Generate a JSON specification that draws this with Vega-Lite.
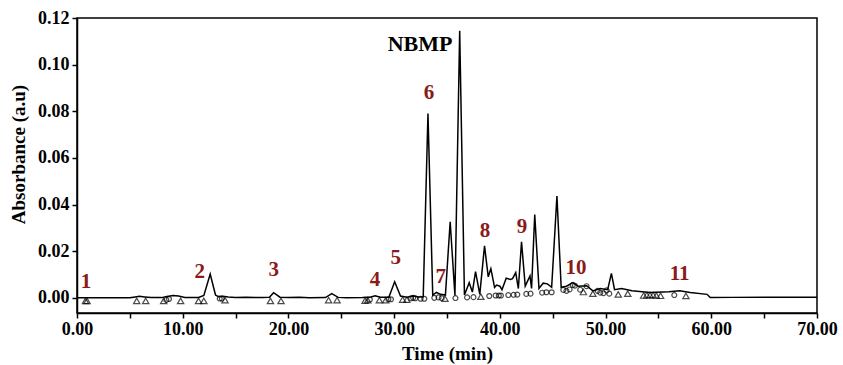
{
  "$schema": "https://vega.github.io/schema/vega-lite/v6.json",
  "width": 740,
  "height": 295,
  "autosize": {"type": "none"},
  "padding": {"left": 77, "top": 18, "right": 26, "bottom": 52},
  "background": "white",
  "config": {
    "view": {"stroke": "black", "strokeWidth": 1.5},
    "font": "Liberation Serif",
    "axis": {
      "grid": false,
      "domainColor": "black",
      "domainWidth": 1.5,
      "tickColor": "black",
      "tickWidth": 1.5,
      "tickSize": 5,
      "labelColor": "black",
      "labelFont": "Liberation Serif",
      "labelFontWeight": "bold",
      "labelFontSize": 18,
      "titleFont": "Liberation Serif",
      "titleFontWeight": "bold",
      "titleFontSize": 19,
      "titleColor": "black",
      "labelOverlap": false,
      "labelFlush": false
    },
    "axisX": {
      "values": [0,2,4,6,8,10,12,14,16,18,20,22,24,26,28,30,32,34,36,38,40,42,44,46,48,50,52,54,56,58,60,62,64,66,68,70],
      "labelExpr": "datum.value % 10 == 0 ? format(datum.value, '.2f') : ''",
      "labelPadding": 2, "titlePadding": 6
    },
    "axisY": {
      "values": [-0.005,0,0.005,0.01,0.015,0.02,0.025,0.03,0.035,0.04,0.045,0.05,0.055,0.06,0.065,0.07,0.075,0.08,0.085,0.09,0.095,0.1,0.105,0.11,0.115,0.12],
      "labelExpr": "(datum.value >= 0 && round(datum.value * 1000) % 20 == 0) ? format(datum.value, '.2f') : ''",
      "labelPadding": 3, "titlePadding": 9, "titleY": 136
    }
  },
  "layer": [
    {
      "data": {"values": [
        {"t": 0, "y": 0}, {"t": 0.5, "y": 0}, {"t": 5.0, "y": 0}, {"t": 5.5, "y": 0.0004}, {"t": 5.9, "y": 0.0007}, {"t": 6.4, "y": 0.0004},
        {"t": 7.0, "y": 0.0001}, {"t": 8.0, "y": 0.0001}, {"t": 8.5, "y": 0.0006}, {"t": 9.1, "y": 0.001}, {"t": 9.6, "y": 0.0008}, {"t": 10.2, "y": 0.0002},
        {"t": 11.5, "y": 0.0002}, {"t": 12.0, "y": 0.001}, {"t": 12.6, "y": 0.0102}, {"t": 13.1, "y": 0.0012}, {"t": 13.4, "y": 0.0005}, {"t": 13.8, "y": 0.0007},
        {"t": 14.3, "y": 0.0004}, {"t": 15.0, "y": 0.0001}, {"t": 16.0, "y": 0.0002}, {"t": 17.5, "y": 0.0001}, {"t": 18.2, "y": 0.0002}, {"t": 18.6, "y": 0.0022},
        {"t": 19.2, "y": 0.0003}, {"t": 20.0, "y": 0.0001}, {"t": 21.0, "y": 0.0002}, {"t": 22.0, "y": 0}, {"t": 23.5, "y": 0.0001}, {"t": 24.1, "y": 0.0018},
        {"t": 24.7, "y": 0.0002}, {"t": 25.5, "y": 0}, {"t": 27.0, "y": 0.0001}, {"t": 27.8, "y": 0.0004}, {"t": 28.2, "y": 0.0009}, {"t": 28.7, "y": 0.0003},
        {"t": 29.5, "y": 0.0003}, {"t": 30.05, "y": 0.0069}, {"t": 30.6, "y": 0.0008}, {"t": 31.2, "y": 0.0003}, {"t": 31.8, "y": 0.0008}, {"t": 32.3, "y": 0.0004},
        {"t": 32.75, "y": 0.0005}, {"t": 33.2, "y": 0.079}, {"t": 33.65, "y": 0.0012}, {"t": 34.0, "y": 0.0023}, {"t": 34.4, "y": 0.0015}, {"t": 34.85, "y": 0.0012},
        {"t": 35.3, "y": 0.0326}, {"t": 35.75, "y": 0.001}, {"t": 36.2, "y": 0.1145}, {"t": 36.65, "y": 0.0012}, {"t": 37.1, "y": 0.0065}, {"t": 37.4, "y": 0.0025},
        {"t": 37.7, "y": 0.0112}, {"t": 38.1, "y": 0.0015}, {"t": 38.55, "y": 0.0223}, {"t": 38.9, "y": 0.009}, {"t": 39.15, "y": 0.0125}, {"t": 39.5, "y": 0.0045},
        {"t": 39.7, "y": 0.0055}, {"t": 40.0, "y": 0.005}, {"t": 40.2, "y": 0.0035}, {"t": 40.6, "y": 0.0084}, {"t": 41.0, "y": 0.0079}, {"t": 41.2, "y": 0.0082},
        {"t": 41.5, "y": 0.0108}, {"t": 41.75, "y": 0.004}, {"t": 42.05, "y": 0.024}, {"t": 42.4, "y": 0.005}, {"t": 42.85, "y": 0.0094}, {"t": 43.0, "y": 0.004},
        {"t": 43.3, "y": 0.0357}, {"t": 43.7, "y": 0.004}, {"t": 44.1, "y": 0.0063}, {"t": 44.5, "y": 0.006}, {"t": 44.9, "y": 0.0045}, {"t": 45.4, "y": 0.0437},
        {"t": 45.8, "y": 0.0045}, {"t": 46.3, "y": 0.005}, {"t": 46.9, "y": 0.0065}, {"t": 47.4, "y": 0.005}, {"t": 48.2, "y": 0.0052}, {"t": 48.8, "y": 0.003},
        {"t": 49.5, "y": 0.004}, {"t": 50.2, "y": 0.0035}, {"t": 50.55, "y": 0.0105}, {"t": 50.85, "y": 0.0035}, {"t": 51.5, "y": 0.004}, {"t": 52.5, "y": 0.003},
        {"t": 54.2, "y": 0.0023}, {"t": 56.0, "y": 0.0026}, {"t": 57.0, "y": 0.003}, {"t": 58.0, "y": 0.0023}, {"t": 59.6, "y": 0.0015}, {"t": 59.9, "y": 0.0001},
        {"t": 62.0, "y": 0.0002}, {"t": 70.0, "y": 0.0003}
      ]},
      "mark": {"type": "line", "color": "black", "strokeWidth": 1.5},
      "encoding": {
        "x": {"field": "t", "type": "quantitative", "title": "Time (min)",
          "scale": {"domain": [0, 70], "nice": false, "zero": false}},
        "y": {"field": "y", "type": "quantitative", "title": "Absorbance (a.u)",
          "scale": {"domain": [-0.0065, 0.12], "nice": false, "zero": false}}
      }
    },
    {
      "data": {"values": [
        {"t": 0.8, "y": -0.0013}, {"t": 0.95, "y": -0.0013}, {"t": 5.65, "y": -0.0013}, {"t": 6.5, "y": -0.0013}, {"t": 8.2, "y": -0.0013}, {"t": 9.8, "y": -0.0013},
        {"t": 11.5, "y": -0.0013}, {"t": 12.0, "y": -0.0013}, {"t": 14.0, "y": -0.001}, {"t": 18.3, "y": -0.0013}, {"t": 19.3, "y": -0.0013}, {"t": 23.8, "y": -0.001},
        {"t": 24.6, "y": -0.001}, {"t": 27.25, "y": -0.0012}, {"t": 27.5, "y": -0.001}, {"t": 28.6, "y": -0.001}, {"t": 29.2, "y": -0.001}, {"t": 30.8, "y": -0.0008},
        {"t": 31.2, "y": -0.0008}, {"t": 34.8, "y": -0.0003}, {"t": 38.2, "y": 0.0005}, {"t": 47.9, "y": 0.0025}, {"t": 48.8, "y": 0.0018}, {"t": 51.2, "y": 0.0015},
        {"t": 52.1, "y": 0.0018}, {"t": 53.6, "y": 0.001}, {"t": 53.9, "y": 0.0012}, {"t": 54.2, "y": 0.0012}, {"t": 54.5, "y": 0.0012}, {"t": 54.8, "y": 0.001},
        {"t": 55.2, "y": 0.0009}, {"t": 57.6, "y": 0.0008}
      ]},
      "mark": {"type": "point", "shape": "triangle-up", "filled": false, "color": "black", "strokeWidth": 1.2, "size": 40},
      "encoding": {
        "x": {"field": "t", "type": "quantitative", "title": "Time (min)"},
        "y": {"field": "y", "type": "quantitative", "title": "Absorbance (a.u)"}
      }
    },
    {
      "data": {"values": [
        {"t": 8.45, "y": -0.0009}, {"t": 8.7, "y": -0.0005}, {"t": 13.5, "y": -0.0003}, {"t": 13.7, "y": -0.0003}, {"t": 27.7, "y": -0.0007}, {"t": 29.45, "y": -0.0006},
        {"t": 29.7, "y": -0.0006}, {"t": 31.6, "y": -0.0002}, {"t": 31.8, "y": 0.0}, {"t": 32.0, "y": -0.0002}, {"t": 32.5, "y": -0.0004}, {"t": 32.85, "y": -0.0004},
        {"t": 33.8, "y": 0.0}, {"t": 34.2, "y": 0.0002}, {"t": 34.5, "y": -0.0001}, {"t": 35.8, "y": -0.0001}, {"t": 36.9, "y": 0.0002}, {"t": 37.5, "y": 0.0003},
        {"t": 39.0, "y": 0.0008}, {"t": 39.6, "y": 0.001}, {"t": 39.9, "y": 0.001}, {"t": 40.1, "y": 0.001}, {"t": 40.8, "y": 0.0012}, {"t": 41.3, "y": 0.0013},
        {"t": 41.65, "y": 0.0014}, {"t": 42.5, "y": 0.0017}, {"t": 42.9, "y": 0.0018}, {"t": 44.0, "y": 0.0022}, {"t": 44.4, "y": 0.0024}, {"t": 44.9, "y": 0.0024},
        {"t": 46.0, "y": 0.0034}, {"t": 46.3, "y": 0.003}, {"t": 46.6, "y": 0.0036}, {"t": 46.9, "y": 0.0055}, {"t": 47.1, "y": 0.0052}, {"t": 47.6, "y": 0.0035},
        {"t": 48.2, "y": 0.005}, {"t": 49.25, "y": 0.003}, {"t": 49.5, "y": 0.0022}, {"t": 49.8, "y": 0.002}, {"t": 50.1, "y": 0.0032}, {"t": 50.35, "y": 0.0018},
        {"t": 56.5, "y": 0.0012}
      ]},
      "mark": {"type": "point", "shape": "circle", "filled": false, "color": "black", "strokeWidth": 1.2, "size": 24},
      "encoding": {
        "x": {"field": "t", "type": "quantitative", "title": "Time (min)"},
        "y": {"field": "y", "type": "quantitative", "title": "Absorbance (a.u)"}
      }
    },
    {
      "data": {"values": [
        {"label": "1", "t": 0.85, "y": 0.0068}, {"label": "2", "t": 11.6, "y": 0.011}, {"label": "3", "t": 18.6, "y": 0.012},
        {"label": "4", "t": 28.2, "y": 0.0077}, {"label": "5", "t": 30.15, "y": 0.017}, {"label": "6", "t": 33.3, "y": 0.0877},
        {"label": "7", "t": 34.4, "y": 0.0088}, {"label": "8", "t": 38.6, "y": 0.0287}, {"label": "9", "t": 42.1, "y": 0.0302},
        {"label": "10", "t": 47.2, "y": 0.0127}, {"label": "11", "t": 57.0, "y": 0.0101}
      ]},
      "mark": {"type": "text", "font": "Liberation Serif", "fontWeight": "bold", "fontSize": 21, "color": "#8B1A1A", "align": "center", "baseline": "middle"},
      "encoding": {
        "x": {"field": "t", "type": "quantitative", "title": "Time (min)"},
        "y": {"field": "y", "type": "quantitative", "title": "Absorbance (a.u)"},
        "text": {"field": "label"}
      }
    },
    {
      "data": {"values": [{"label": "NBMP", "t": 32.45, "y": 0.109}]},
      "mark": {"type": "text", "font": "Liberation Serif", "fontWeight": "bold", "fontSize": 22, "color": "black", "align": "center", "baseline": "middle"},
      "encoding": {
        "x": {"field": "t", "type": "quantitative", "title": "Time (min)"},
        "y": {"field": "y", "type": "quantitative", "title": "Absorbance (a.u)"},
        "text": {"field": "label"}
      }
    }
  ]
}
